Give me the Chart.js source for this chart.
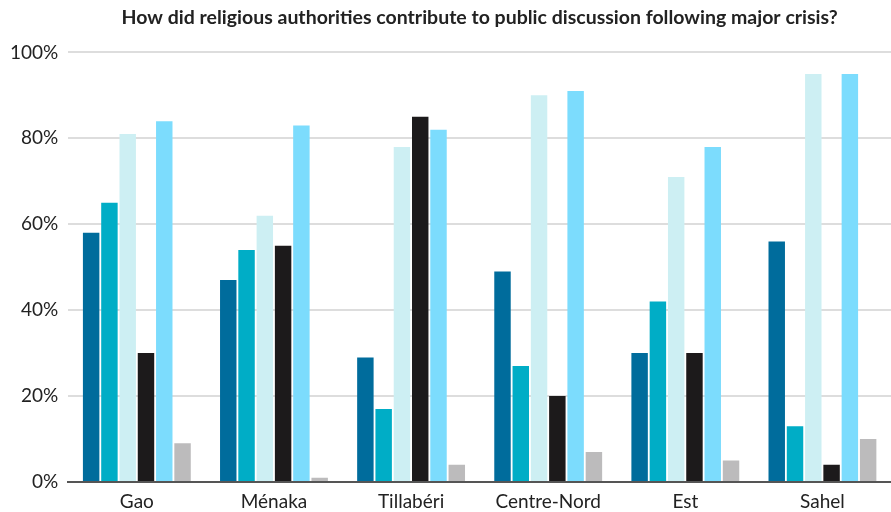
<!DOCTYPE html>
<html>
<head>
<meta charset="utf-8">
<script src="https://cdn.jsdelivr.net/npm/chart.js@4"></script>
<style>
  html, body { margin: 0; padding: 0; background: #fff; }
  #wrap { width: 891px; height: 512px; }
</style>
</head>
<body>
<div id="wrap"><canvas id="barChart" width="891" height="512"></canvas></div>
<script>
const regions = ['Gao', 'Ménaka', 'Tillabéri', 'Centre-Nord', 'Est', 'Sahel'];

// one array per answer group, values in %
const seriesA = [58, 47, 29, 49, 30, 56];
const seriesB = [65, 54, 17, 27, 42, 13];
const seriesC = [81, 62, 78, 90, 71, 95];
const seriesD = [30, 55, 85, 20, 30, 4];
const seriesE = [84, 83, 82, 91, 78, 95];
const seriesF = [9, 1, 4, 7, 5, 10];

const yTicks = [0, 20, 40, 60, 80, 100];

const colors = ['#006c9c', '#00adc6', '#cdeff3', '#1c1a1b', '#7cdcfd', '#bcbbbc'];
const allSeries = [seriesA, seriesB, seriesC, seriesD, seriesE, seriesF];

const fontFam = 'Lato, "Open Sans", sans-serif';

let ctx = document.getElementById('barChart').getContext('2d');
let barChart = new Chart(ctx, {
    type: 'bar',
    data: {
        labels: regions,
        datasets: allSeries.map(function(data, i){
            return {
                label: 'series ' + (i + 1),
                data: data,
                backgroundColor: colors[i],
                borderWidth: 0
            };
        })
    },
    options: {
        responsive: false,
        animation: false,
        layout: { padding: { left: 0, right: 0, top: 0, bottom: 0 } },
        plugins: {
            legend: { display: false },
            tooltip: { enabled: false },
            title: {
                display: true,
                fullSize: false,   // centre over the plot, not the whole canvas
                text: 'How did religious authorities contribute to public discussion following major crisis?',
                color: '#222',
                font: { family: fontFam, size: 19.5, weight: 'bold' },
                padding: { top: 6, bottom: 23 }
            }
        },
        scales: {
            x: {
                grid: { display: false, drawTicks: false },
                border: { display: true, color: '#555', width: 2 },
                ticks: {
                    color: '#222',
                    padding: 8,
                    font: { family: fontFam, size: 19 }
                },
                afterFit: function(axis){ axis.height = 30; }
            },
            y: {
                min: 0,
                max: 100,
                afterBuildTicks: function(axis){
                    axis.ticks = yTicks.map(function(v){ return { value: v }; });
                },
                grid: { color: '#dddddd', lineWidth: 2, drawTicks: false },
                border: { display: false },
                ticks: {
                    color: '#222',
                    padding: 10,
                    font: { family: fontFam, size: 19 },
                    callback: function(v){ return v + '%'; }
                }
            }
        }
    }
});
</script>
</body>
</html>
